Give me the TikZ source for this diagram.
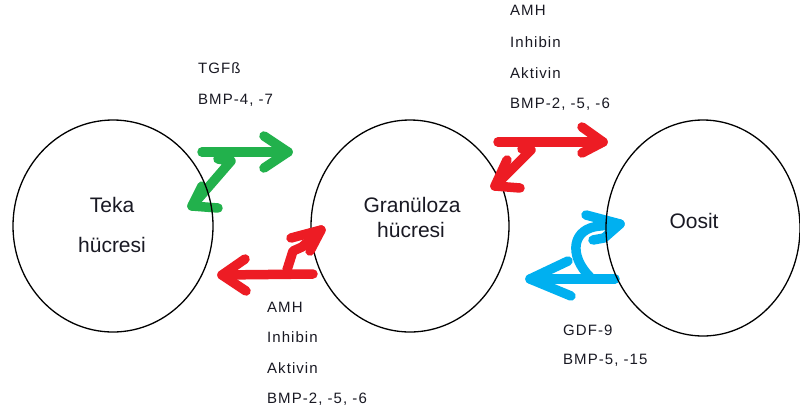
\documentclass[tikz,border=0pt]{standalone}
\usepackage{fontspec}
\setmainfont{Liberation Sans}
\newfontfamily\lblfont[LetterSpace=7]{Liberation Sans}
\usetikzlibrary{shapes.geometric}
\definecolor{pgreen}{RGB}{34,177,76}
\definecolor{pred}{RGB}{237,28,36}
\definecolor{pblue}{RGB}{0,176,240}
\definecolor{ptext}{RGB}{25,25,35}
\begin{document}
\begin{tikzpicture}[x=1pt,y=-1pt,
  cell/.style={draw=black, line width=1.3pt, ellipse, inner sep=0pt},
  big/.style={font=\fontsize{21}{24}\selectfont, text=ptext, inner sep=0pt, anchor=base},
  small/.style={font=\lblfont\fontsize{15}{18}\selectfont, text=ptext, inner sep=0pt, anchor=base west},
  fat/.style={line width=9.5pt, line cap=round, line join=round}]
\useasboundingbox (0,0) rectangle (800,416);
\fill[white] (0,0) rectangle (800,416);

% green arrow
\coordinate (g1) at (202,152); \coordinate (g2) at (288,152);
\coordinate (gu) at (264,136); \coordinate (gl) at (264,168);
\coordinate (gz1) at (218,159); \coordinate (gz2) at (231,161); \coordinate (gt) at (192,206);
\coordinate (ga) at (202,186); \coordinate (gb) at (218,208);
\draw[fat, pgreen] (g1) -- (g2);
\draw[fat, pgreen] (gu) -- (g2) -- (gl);
\draw[fat, pgreen] (gz1) -- (gz2) -- (gt);
\draw[fat, pgreen] (ga) -- (gt) -- (gb);

% blue arrow
\coordinate (b1) at (615,279); \coordinate (b2) at (530,279);
\coordinate (bu) at (568,261); \coordinate (bl) at (571,296);
\coordinate (bc1) at (590,277); \coordinate (bc2) at (600,226); \coordinate (bt) at (620,224);
\coordinate (ba) at (586,215); \coordinate (bh1) at (604,238); \coordinate (bh2) at (593,240);
\draw[fat, pblue] (b1) -- (b2);
\draw[fat, pblue] (bu) -- (b2) -- (bl);
\draw[fat, pblue] (bc1) .. controls (568,255) and (572,228) .. (bc2) -- (bt);
\draw[fat, pblue] (ba) -- (bt) -- (bh1) -- (bh2);

% cells
\node[cell, minimum width=200pt, minimum height=212pt] (teka) at (113,226) {};
\node[cell, minimum width=198pt, minimum height=212pt] (gran) at (410,226) {};
\node[cell, minimum width=194pt, minimum height=216pt] (oosit) at (703,228) {};

% red top arrow
\coordinate (r1) at (498,142); \coordinate (r2) at (603,142);
\coordinate (ru) at (582,127); \coordinate (rl) at (582,153);
\coordinate (rz1) at (522,149); \coordinate (rz2) at (531,150); \coordinate (rt) at (495,186);
\coordinate (ra) at (507,160); \coordinate (rb) at (520,188);
\draw[fat, pred] (r1) -- (r2);
\draw[fat, pred] (ru) -- (r2) -- (rl);
\draw[fat, pred] (rz1) -- (rz2) -- (rt);
\draw[fat, pred] (ra) -- (rt) -- (rb);

% red bottom arrow
\coordinate (s1) at (313,274); \coordinate (s2) at (222,275);
\coordinate (su) at (245,259); \coordinate (sl) at (246,291);
\coordinate (sz1) at (287,270); \coordinate (sz2) at (293,251); \coordinate (sz3) at (302,247); \coordinate (st) at (321,230);
\coordinate (sa) at (291,238); \coordinate (sb) at (310,251);
\draw[fat, pred] (s1) -- (s2);
\draw[fat, pred] (su) -- (s2) -- (sl);
\draw[fat, pred] (sz1) -- (sz2) -- (sz3) -- (st);
\draw[fat, pred] (sa) -- (st) -- (sb);

% cell labels
\node[big] (tk1) at (112,212) {Teka};
\node[big] (tk2) at (112,252) {hücresi};
\node[big] (gr1) at (412,212) {Granüloza};
\node[big] (gr2) at (411,237) {hücresi};
\node[big] (oo) at (694,228) {Oosit};

% factor labels
\node[small] (l1) at (198,73) {TGFß};
\node[small] (l2) at (198,104) {BMP-4, -7};
\node[small] (m1) at (510,15) {AMH};
\node[small] (m2) at (510,47) {Inhibin};
\node[small] (m3) at (510,78) {Aktivin};
\node[small] (m4) at (510,108) {BMP-2, -5, -6};
\node[small] (n1) at (267,312) {AMH};
\node[small] (n2) at (267,342) {Inhibin};
\node[small] (n3) at (267,373) {Aktivin};
\node[small] (n4) at (267,403) {BMP-2, -5, -6};
\node[small] (o1) at (563,335) {GDF-9};
\node[small] (o2) at (563,364) {BMP-5, -15};
\end{tikzpicture}
\end{document}
